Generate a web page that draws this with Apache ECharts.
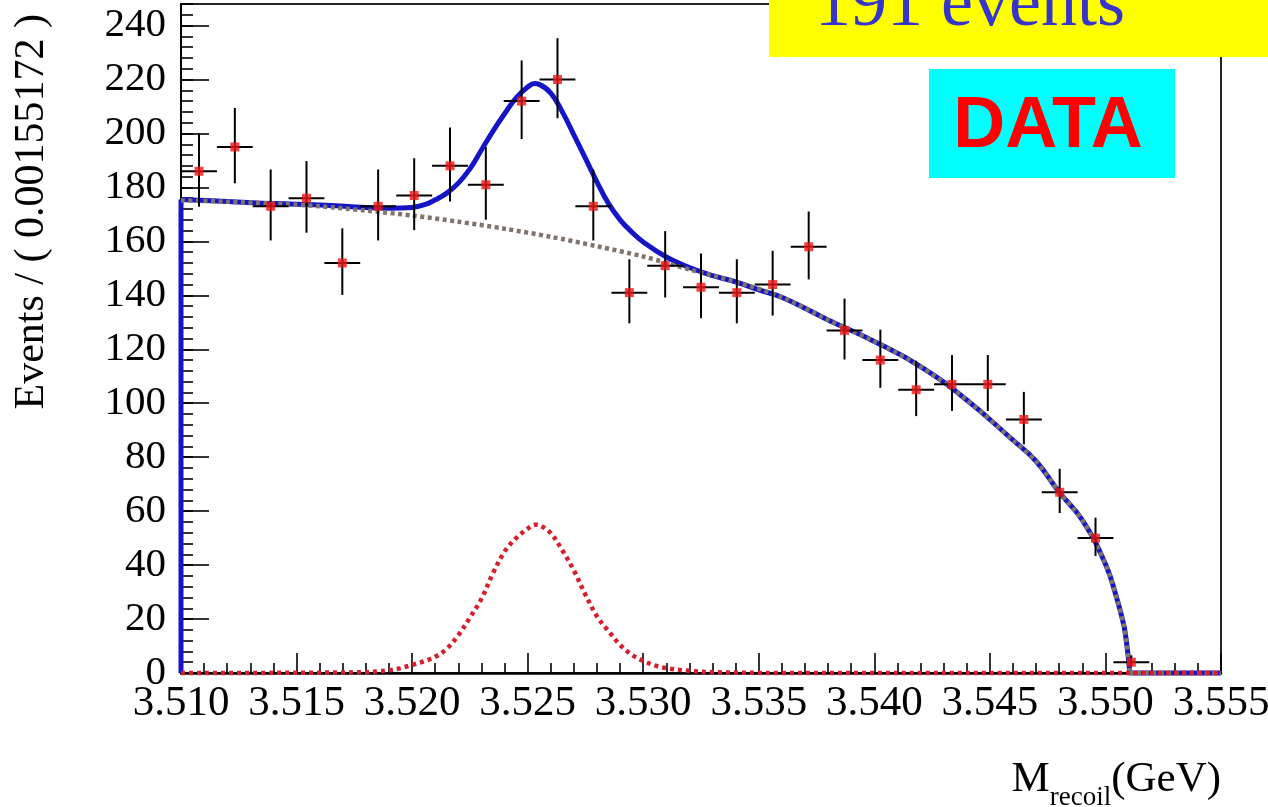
<!DOCTYPE html>
<html>
<head>
<meta charset="utf-8">
<title>M recoil fit</title>
<script src="https://cdn.jsdelivr.net/npm/echarts@6.0.0/dist/echarts.min.js"></script>
<style>
html, body { margin: 0; padding: 0; background: #ffffff; }
#chart { width: 1268px; height: 807px; }
</style>
</head>
<body>
<div id="chart"></div>
<script>
// Binned recoil-mass spectrum, bin width 0.00155172 GeV
const BIN_WIDTH = 0.00155172;
const binCenters = [
  3.51078, 3.51233, 3.51388, 3.51543, 3.51698, 3.51853, 3.52009, 3.52164, 3.52319,
  3.52474, 3.52629, 3.52784, 3.52940, 3.53095, 3.53250, 3.53405, 3.53560, 3.53716,
  3.53871, 3.54026, 3.54181, 3.54336, 3.54491, 3.54647, 3.54802, 3.54957, 3.55112
];
const binCounts = [
  186, 195, 173, 176, 152, 173, 177, 188, 181,
  212, 220, 173, 141, 151, 143, 141, 144, 158,
  127, 116, 105, 107, 107, 94, 67, 50, 4
];

// Total fit (signal + background), up to the kinematic endpoint
const totalX = [
  3.510, 3.512, 3.514, 3.516, 3.518, 3.519, 3.520, 3.5205, 3.521, 3.5215, 3.522, 3.5225,
  3.523, 3.5235, 3.524, 3.5245, 3.525, 3.5253, 3.5255, 3.526, 3.5265, 3.527, 3.5275,
  3.528, 3.5285, 3.529, 3.5295, 3.530, 3.531, 3.532, 3.533, 3.534, 3.535, 3.536, 3.538,
  3.540, 3.542, 3.544, 3.546, 3.547, 3.548, 3.549, 3.550, 3.5505, 3.5508, 3.5509,
  3.5510, 3.55105
];
const totalY = [
  175.5, 174.8, 174.0, 173.5, 172.6, 172.3, 172.6, 173.5, 175.4, 177.9, 181.6, 186.9,
  193.9, 200.9, 207.3, 213.2, 217.2, 218.5, 218.2, 215.0, 208.0, 199.5, 190.8,
  182.0, 174.0, 168.0, 163.5, 159.8, 154.2, 150.3, 147.3, 145.0, 142.0, 139.3, 130.9,
  122.9, 113.6, 101.2, 86.3, 78.5, 67.0, 56.7, 40.4, 27.4, 17.5, 12.0,
  5.0, 0
];

// Background component, up to the kinematic endpoint
const bkgX = [
  3.510, 3.512, 3.514, 3.516, 3.518, 3.520, 3.522, 3.524, 3.526, 3.528, 3.530, 3.532,
  3.534, 3.536, 3.538, 3.540, 3.542, 3.544, 3.546, 3.547, 3.548, 3.549, 3.550, 3.5505,
  3.5508, 3.5509, 3.5510, 3.55105
];
const bkgY = [
  175.2, 174.7, 174.0, 173.0, 171.4, 169.6, 167.3, 164.7, 161.7, 158.2, 154.4, 149.6,
  145.0, 139.3, 130.9, 122.9, 113.6, 101.2, 86.3, 78.5, 67.0, 56.7, 40.4, 27.4,
  17.5, 12.0, 5.0, 0
];

// Both fit curves are zero above the endpoint
const tailX = [3.55105, 3.555];
const tailY = [0, 0];

// Signal component
const sigX = [
  3.510, 3.514, 3.518, 3.5185, 3.519, 3.5195, 3.520, 3.5205, 3.521, 3.5215, 3.522, 3.5225,
  3.523, 3.5235, 3.524, 3.5245, 3.525, 3.5253, 3.5255, 3.526, 3.5265, 3.527, 3.5275,
  3.528, 3.5285, 3.529, 3.5295, 3.530, 3.5305, 3.531, 3.532, 3.533, 3.536, 3.545, 3.555
];
const sigY = [
  0, 0.05, 0.3, 0.6, 1.0, 1.8, 3.0, 4.3, 6.0, 9.0, 14.0, 20.5,
  27.5, 37.0, 45.0, 50.0, 53.5, 55.0, 54.8, 51.8, 45.5, 38.0, 29.0,
  21.0, 15.5, 10.4, 6.8, 4.5, 2.8, 1.8, 0.8, 0.3, 0.02, 0, 0
];

// Axis ranges and tick spacing
const X_MIN = 3.510, X_MAX = 3.555, X_STEP = 0.005;
const Y_MAX = 248, Y_STEP = 20, Y_MINOR_STEP = 4;
const xTickDecimals = 3;

const SERIF = '"Liberation Serif", "Times New Roman", serif';
const SANS = '"Liberation Sans", Arial, sans-serif';
const BLUE = '#1515c8';
const GREY = '#7f736d';
const SIG_RED = '#d81e2c';
const PT_RED = '#ee1515';

const zip = (xs, ys) => xs.map((x, i) => [x, ys[i]]);

// Asymmetric Poisson-style errors for each count
const points = binCenters.map((x, i) => {
  const n = binCounts[i];
  const s = Math.sqrt(n + 0.25);
  return [x, n, s - 0.5, s + 0.5];
});

const chart = echarts.init(document.getElementById('chart'), null, { renderer: 'canvas' });

const tickStyle = { color: '#000', width: 1.6 };

function curve(data, lineStyle, z, smooth) {
  return {
    type: 'line', yAxisIndex: 0, clip: false, symbol: 'none', z,
    smooth: smooth || false,
    data, lineStyle
  };
}

const blueStyle = { color: BLUE, width: 5 };
const greyStyle = { color: GREY, width: 4.5, type: [4, 3.5] };
const redStyle = { color: SIG_RED, width: 4.5, type: [4, 4] };

chart.setOption({
  animation: false,
  backgroundColor: '#ffffff',
  grid: {
    left: 181, right: 47, top: 4, bottom: 134,
    containLabel: false, outerBoundsMode: 'none',
    show: true, borderColor: '#222', borderWidth: 2, backgroundColor: 'transparent'
  },
  xAxis: {
    type: 'value', min: X_MIN, max: X_MAX, interval: X_STEP,
    axisLine: { lineStyle: { color: '#000', width: 2.5 } },
    axisTick: { inside: true, length: 20, lineStyle: tickStyle },
    minorTick: { show: true, splitNumber: 5, length: 10, lineStyle: tickStyle },
    axisLabel: {
      formatter: v => v.toFixed(xTickDecimals),
      fontFamily: SERIF, fontSize: 43, color: '#000', margin: 9
    },
    splitLine: { show: false }
  },
  yAxis: [
    {
      type: 'value', min: 0, max: Y_MAX, interval: Y_MINOR_STEP, position: 'left',
      axisLine: { lineStyle: { color: '#000', width: 2 } },
      axisTick: { inside: true, length: 12, lineStyle: tickStyle },
      axisLabel: { show: false },
      splitLine: { show: false }
    },
    {
      type: 'value', min: 0, max: Y_MAX, interval: Y_STEP, position: 'left',
      axisLine: { show: false },
      axisTick: { inside: true, length: 28, lineStyle: tickStyle },
      axisLabel: {
        fontFamily: SERIF, fontSize: 41, color: '#000', margin: 15,
        showMaxLabel: false
      },
      splitLine: { show: false }
    }
  ],
  series: [
    // left edge of the fitted curve at the lower range limit
    curve([[totalX[0], 0], [totalX[0], totalY[0]]], blueStyle, 2, false),
    curve(zip(totalX, totalY), blueStyle, 2, 0.45),
    curve(zip(tailX, tailY), blueStyle, 2, false),
    curve(zip(bkgX, bkgY), greyStyle, 3, 0.3),
    curve(zip(tailX, tailY), greyStyle, 3, false),
    curve(zip(sigX, sigY), redStyle, 3, 0.35),
    {
      type: 'custom', yAxisIndex: 0, z: 4,
      encode: { x: 0, y: 1 },
      data: points,
      renderItem(params, api) {
        const x = api.value(0), y = api.value(1);
        const lo = api.value(2), hi = api.value(3);
        const c = api.coord([x, y]);
        const t = api.coord([x, y + hi]);
        const b = api.coord([x, Math.max(0, y - lo)]);
        const l = api.coord([x - BIN_WIDTH / 2, y]);
        const r = api.coord([x + BIN_WIDTH / 2, y]);
        const style = { stroke: '#000', lineWidth: 2 };
        return {
          type: 'group',
          children: [
            { type: 'line', shape: { x1: c[0], y1: t[1], x2: c[0], y2: b[1] }, style },
            { type: 'line', shape: { x1: l[0], y1: c[1], x2: r[0], y2: c[1] }, style }
          ]
        };
      }
    },
    {
      type: 'scatter', yAxisIndex: 0, z: 5,
      symbol: 'rect', symbolSize: 9,
      data: binCenters.map((x, i) => [x, binCounts[i]]),
      itemStyle: { color: PT_RED }
    }
  ],
  graphic: [
    {
      type: 'text', x: 32, y: 14, rotation: Math.PI / 2, z: 50,
      style: {
        text: 'Events / ( 0.00155172 )', fill: '#000',
        font: '42px ' + SERIF, align: 'right', verticalAlign: 'middle'
      }
    },
    {
      type: 'text', x: 1221, y: 758, z: 50,
      style: {
        text: '{m|M}{s|recoil}{m|(GeV)}', align: 'right', verticalAlign: 'top', fill: '#000',
        rich: {
          m: { fontFamily: SERIF, fontSize: 43, lineHeight: 44, verticalAlign: 'top', fill: '#000' },
          s: { fontFamily: SERIF, fontSize: 27, lineHeight: 27, padding: [26, 0, 0, 0], verticalAlign: 'top', fill: '#000' }
        }
      }
    },
    {
      type: 'rect', z: 60,
      shape: { x: 769, y: 0, width: 499, height: 57 },
      style: { fill: '#ffff00' }
    },
    {
      type: 'text', x: 815, y: 6, z: 61,
      style: {
        text: '191 events', fill: '#3535cc',
        font: '72px ' + SERIF, align: 'left', verticalAlign: 'middle'
      }
    },
    {
      type: 'rect', z: 60,
      shape: { x: 929, y: 69, width: 246, height: 109 },
      style: { fill: '#00ffff' }
    },
    {
      type: 'text', x: 1048, y: 127, z: 61,
      style: {
        text: 'DATA', fill: '#ff0000',
        font: 'bold 72px ' + SANS, align: 'center', verticalAlign: 'middle'
      }
    }
  ]
});
</script>
</body>
</html>
